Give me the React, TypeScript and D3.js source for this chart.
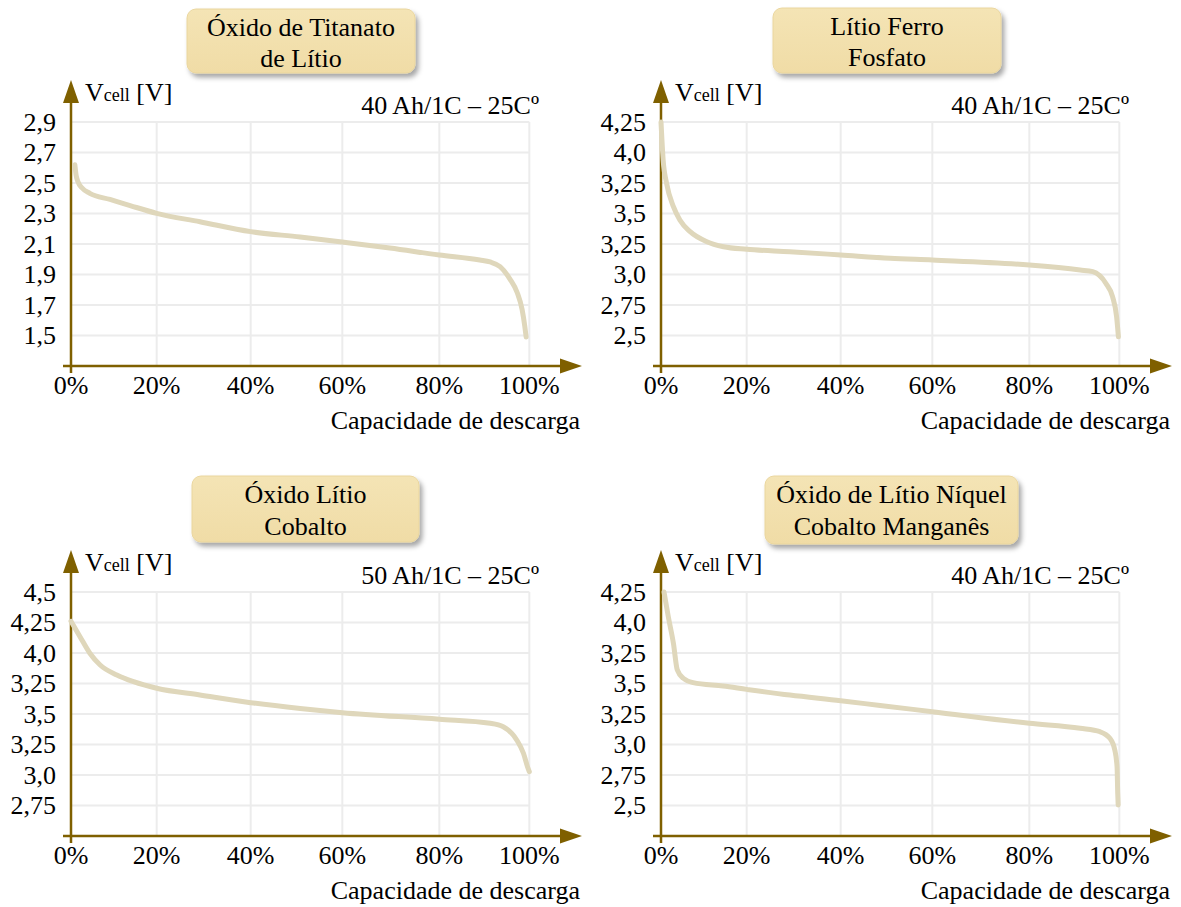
import React from 'react';
import * as d3 from 'd3';

// x axis: discharged capacity in %
const capacityTicks = [0, 20, 40, 60, 80, 100];

// Óxido de Titanato de Lítio
const ltoCapacity = [0.9, 1.2, 1.6, 2.6, 4.4, 9.1, 13.8, 20, 29.2, 40, 50.8, 60, 69.8, 80, 89.0, 91.3, 93.5, 95.7, 97.3, 98.4, 99.0, 99.3];
const ltoVoltage = [2.62, 2.55, 2.51, 2.467, 2.432, 2.392, 2.352, 2.301, 2.246, 2.181, 2.146, 2.113, 2.074, 2.028, 1.995, 1.982, 1.952, 1.87, 1.782, 1.67, 1.56, 1.49];
const ltoTicks = [2.9, 2.7, 2.5, 2.3, 2.1, 1.9, 1.7, 1.5];
const ltoTickLabels = ['2,9', '2,7', '2,5', '2,3', '2,1', '1,9', '1,7', '1,5'];

// Lítio Ferro Fosfato
const lfpCapacity = [0, 0.5, 1.3, 2.9, 4.4, 6.8, 10.7, 14.6, 20, 29.2, 40, 50.8, 60, 80, 91.3, 94.1, 97.0, 98.5, 99.4, 99.8];
const lfpVoltage = [4.25, 3.939, 3.748, 3.556, 3.447, 3.351, 3.269, 3.228, 3.207, 3.187, 3.16, 3.133, 3.119, 3.078, 3.037, 3.023, 2.928, 2.818, 2.654, 2.49];
const lfpTicks = [4.25, 4.0, 3.75, 3.5, 3.25, 3.0, 2.75, 2.5];
const lfpTickLabels = ['4,25', '4,0', '3,25', '3,5', '3,25', '3,0', '2,75', '2,5'];

// Óxido Lítio Cobalto
const lcoCapacity = [0, 2.1, 4.4, 6.8, 10.7, 14.6, 20, 29.2, 40, 50.8, 60, 80, 91.3, 94.2, 97.2, 98.7, 99.6, 100];
const lcoVoltage = [4.26, 4.134, 3.998, 3.902, 3.82, 3.765, 3.711, 3.656, 3.593, 3.545, 3.511, 3.457, 3.424, 3.396, 3.287, 3.178, 3.068, 3.027];
const lcoTicks = [4.5, 4.25, 4.0, 3.75, 3.5, 3.25, 3.0, 2.75];
const lcoTickLabels = ['4,5', '4,25', '4,0', '3,25', '3,5', '3,25', '3,0', '2,75'];

// Óxido de Lítio Níquel Cobalto Manganês
const nmcCapacity = [0.7, 1.7, 2.9, 3.8, 5.2, 7.5, 14.5, 20, 29.2, 40, 48.6, 60, 80, 91.3, 95.7, 97.9, 99.0, 99.5, 99.65, 99.75];
const nmcVoltage = [4.25, 4.048, 3.829, 3.611, 3.543, 3.507, 3.479, 3.452, 3.405, 3.359, 3.32, 3.269, 3.174, 3.133, 3.105, 3.051, 2.955, 2.818, 2.6, 2.504];
const nmcTicks = [4.25, 4.0, 3.75, 3.5, 3.25, 3.0, 2.75, 2.5];
const nmcTickLabels = ['4,25', '4,0', '3,25', '3,5', '3,25', '3,0', '2,75', '2,5'];

const panels = [
  { title: ['Óxido de Titanato', 'de Lítio'], rating: '40 Ah/1C – 25Cº', domain: [1.3, 2.9], ticks: ltoTicks, labels: ltoTickLabels, cap: ltoCapacity, volt: ltoVoltage },
  { title: ['Lítio Ferro', 'Fosfato'], rating: '40 Ah/1C – 25Cº', domain: [2.25, 4.25], ticks: lfpTicks, labels: lfpTickLabels, cap: lfpCapacity, volt: lfpVoltage },
  { title: ['Óxido Lítio', 'Cobalto'], rating: '50 Ah/1C – 25Cº', domain: [2.5, 4.5], ticks: lcoTicks, labels: lcoTickLabels, cap: lcoCapacity, volt: lcoVoltage },
  { title: ['Óxido de Lítio Níquel', 'Cobalto Manganês'], rating: '40 Ah/1C – 25Cº', domain: [2.25, 4.25], ticks: nmcTicks, labels: nmcTickLabels, cap: nmcCapacity, volt: nmcVoltage },
];

// layout of each panel (panel-local pixels)
const offsets = [[0, 0], [590, 0], [0, 470], [590, 470]];
const boxes = [
  { x: 187, y: 9, w: 228, h: 64, l1: 36, l2: 67 },
  { x: 183, y: 8, w: 228, h: 65, l1: 35, l2: 66 },
  { x: 192, y: 6, w: 227, h: 66, l1: 33, l2: 65 },
  { x: 175, y: 6, w: 253, h: 68, l1: 33, l2: 65 },
];
const xGrid = [71, 156.7, 250.7, 342.3, 439.3, 529.3]; // the printed grid is not evenly spaced
const plotTop = 122;
const plotBottom = 366;

const FONT = "'Liberation Serif', 'Times New Roman', serif";
const AXIS = '#7F6000';
const GRID = '#ececec';
const CURVE = '#DFD7BB';

const Panel = ({ p, i }: { p: any; i: number }) => {
  const [dx, dy] = offsets[i];
  const box = boxes[i];
  const x = d3.scaleLinear().domain(capacityTicks).range(xGrid);
  const y = d3.scaleLinear().domain(p.domain).range([plotBottom, plotTop]);
  const pts: [number, number][] = p.cap.map((c: number, k: number) => [c, p.volt[k]]);
  const line = d3.line<[number, number]>()
    .x(d => x(d[0]))
    .y(d => y(d[1]))
    .curve(d3.curveMonotoneX);
  const x0 = x(0);
  const cx = box.x + box.w / 2;

  return (
    <g transform={`translate(${dx},${dy})`} fontFamily={FONT} fill="#000">
      {/* title box */}
      <rect x={box.x} y={box.y} width={box.w} height={box.h} rx={9} fill="url(#boxFill)" stroke="#EAD69E" strokeWidth={1} filter="url(#boxShadow)" />
      <text x={cx} y={box.l1} textAnchor="middle" fontSize={26}>{p.title[0]}</text>
      <text x={cx} y={box.l2} textAnchor="middle" fontSize={26}>{p.title[1]}</text>

      {/* grid */}
      {p.ticks.map((t: number) => (
        <line key={'h' + t} x1={x0} x2={x(100)} y1={y(t)} y2={y(t)} stroke={GRID} strokeWidth={2} />
      ))}
      {capacityTicks.slice(1).map(t => (
        <line key={'v' + t} x1={x(t)} x2={x(t)} y1={plotTop} y2={plotBottom} stroke={GRID} strokeWidth={2} />
      ))}

      {/* axes with arrows */}
      <line x1={x0} x2={x0} y1={100} y2={373} stroke={AXIS} strokeWidth={2.5} />
      <polygon points={`${x0},80 ${x0 - 8},103 ${x0 + 8},103`} fill={AXIS} />
      <line x1={63} x2={562} y1={plotBottom} y2={plotBottom} stroke={AXIS} strokeWidth={2.5} />
      <polygon points={`582,${plotBottom} 560,${plotBottom - 7.5} 560,${plotBottom + 7.5}`} fill={AXIS} />

      {/* tick labels */}
      {p.ticks.map((t: number, k: number) => (
        <text key={'yl' + k} x={56} y={y(t)} dy="0.33em" textAnchor="end" fontSize={26}>{p.labels[k]}</text>
      ))}
      {capacityTicks.map(t => (
        <text key={'xl' + t} x={x(t)} y={394} textAnchor="middle" fontSize={26}>{t}%</text>
      ))}

      {/* axis titles */}
      <text x={85} y={101} fontSize={26}>
        V<tspan fontSize={18}>cell</tspan> [V]
      </text>
      <text x={539} y={114} textAnchor="end" fontSize={26}>{p.rating}</text>
      <text x={580} y={429} textAnchor="end" fontSize={26}>Capacidade de descarga</text>

      {/* discharge curve */}
      <path d={line(pts) || ''} fill="none" stroke={CURVE} strokeWidth={5} strokeLinecap="round" strokeLinejoin="round" />
    </g>
  );
};

export default function App() {
  return (
    <svg width={1181} height={907} style={{ position: 'absolute', left: 0, top: 0, background: '#fff' }}>
      <defs>
        <linearGradient id="boxFill" x1="0" y1="0" x2="0" y2="1">
          <stop offset="0%" stopColor="#F4E4B5" />
          <stop offset="100%" stopColor="#F0DCA6" />
        </linearGradient>
        <filter id="boxShadow" x="-10%" y="-20%" width="130%" height="160%">
          <feDropShadow dx={3} dy={4} stdDeviation={2.5} floodColor="#000" floodOpacity={0.35} />
        </filter>
      </defs>
      <rect width={1181} height={907} fill="#fff" />
      {panels.map((p, i) => <Panel key={i} p={p} i={i} />)}
    </svg>
  );
}
